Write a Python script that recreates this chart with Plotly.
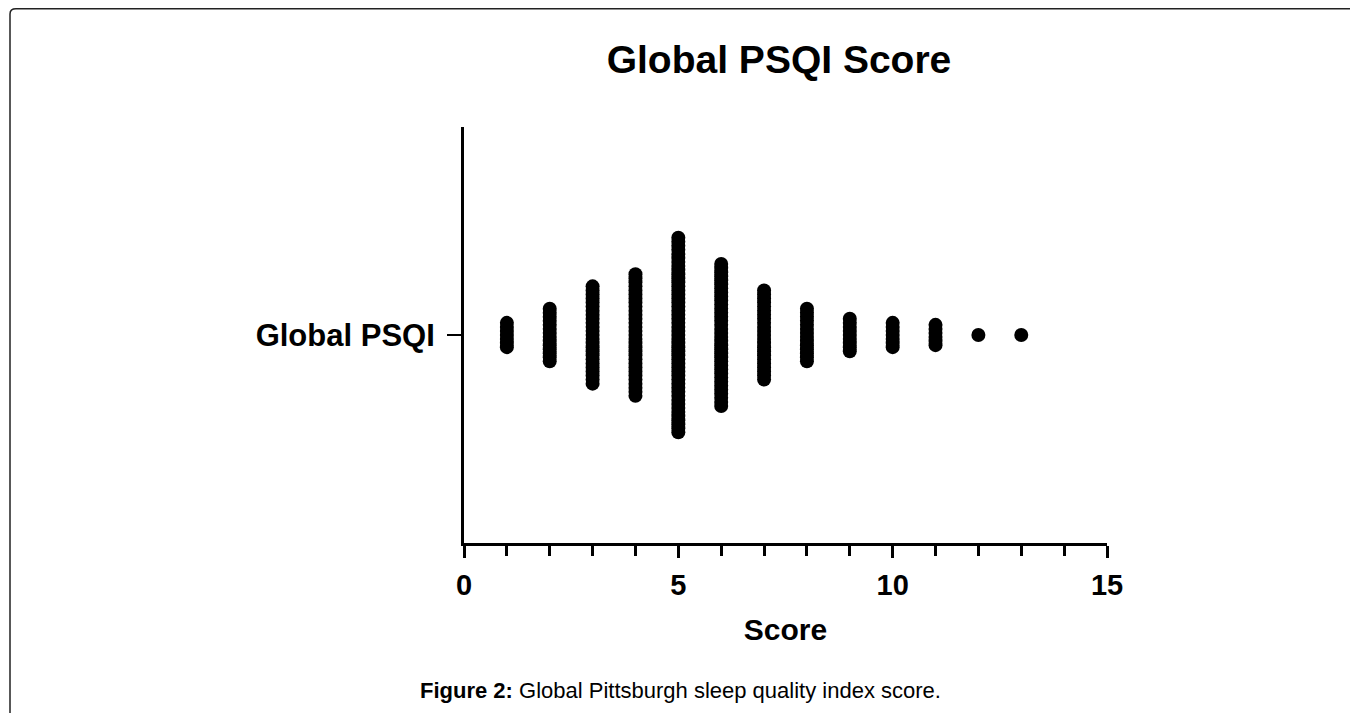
import plotly.graph_objects as go

# Data: number of participants at each Global PSQI score (read from dot stacks)
scores = [1, 2, 3, 4, 5, 6, 7, 8, 9, 10, 11, 12, 13]
counts = [7, 14, 25, 31, 49, 36, 23, 14, 9, 7, 6, 1, 1]
category = "Global PSQI"
x_ticks = [0, 5, 10, 15]

STEP = 0.0195  # vertical spacing between stacked dots (data units)

xs, ys = [], []
for s, n in zip(scores, counts):
    for i in range(n):
        xs.append(s)
        ys.append((i - (n - 1) / 2) * STEP)

fig = go.Figure()
fig.add_trace(go.Scatter(
    x=xs, y=ys, mode="markers",
    marker=dict(size=14, color="black", line=dict(width=0)),
    hoverinfo="skip", showlegend=False,
))

FONT = "Liberation Sans, Arial, sans-serif"
OFF = 8  # page body margin
FW, FH = 1358 - OFF, 713 - OFF
L, R, T, B = 464 - OFF, 1107 - OFF, 127 - OFF, 543 - OFF

fig.update_layout(
    width=FW, height=FH,
    margin=dict(l=L, r=FW - R, t=T, b=FH - B),
    paper_bgcolor="white", plot_bgcolor="white",
    title=dict(text="<b>Global PSQI Score</b>", x=(779 - OFF) / FW, xanchor="center",
               y=1 - (59 - OFF) / FH, yanchor="middle",
               font=dict(family=FONT, size=39, color="black")),
    xaxis=dict(
        range=[0, 15], tickvals=x_ticks, ticktext=[f"<b>{v}</b>" for v in x_ticks],
        showline=True, linewidth=3, linecolor="black",
        ticks="outside", ticklen=12, tickwidth=3, tickcolor="black",
        minor=dict(ticks="outside", dtick=1, ticklen=10, tickwidth=3, tickcolor="black"),
        showgrid=False, zeroline=False,
        tickfont=dict(family=FONT, size=29, color="black"),
        ticklabelstandoff=2,
        title=dict(text="<b>Score</b>", font=dict(family=FONT, size=30, color="black"), standoff=20),
    ),
    yaxis=dict(
        range=[-1, 1], tickvals=[0], ticktext=[f"<b>{category}</b>"],
        showline=True, linewidth=3, linecolor="black",
        ticks="outside", ticklen=14, tickwidth=2, tickcolor="black",
        showgrid=False, zeroline=False,
        tickfont=dict(family=FONT, size=31, color="black"),
        ticklabelstandoff=6,
    ),
    font=dict(family=FONT, color="black"),
)

# page border (top and left edges of the figure frame)
W, H = float(R - L), float(B - T)
def px(xp):
    return (xp - OFF - L) / W
def py(yp):
    return (B - (yp - OFF)) / H

fig.add_shape(type="path", xref="paper", yref="paper",
              path=f"M {px(10)},{py(720)} L {px(10)},{py(14)} Q {px(10)},{py(8.8)} {px(16)},{py(8.8)} L {px(1370)},{py(8.8)}",
              line=dict(color="#222222", width=1.5))

fig.add_annotation(
    text="<b>Figure 2:</b> Global Pittsburgh sleep quality index score.",
    xref="paper", yref="paper", x=px(680), y=py(690), xanchor="center", yanchor="middle",
    showarrow=False, font=dict(family=FONT, size=22, color="black"),
)

fig.write_html("out.html")
